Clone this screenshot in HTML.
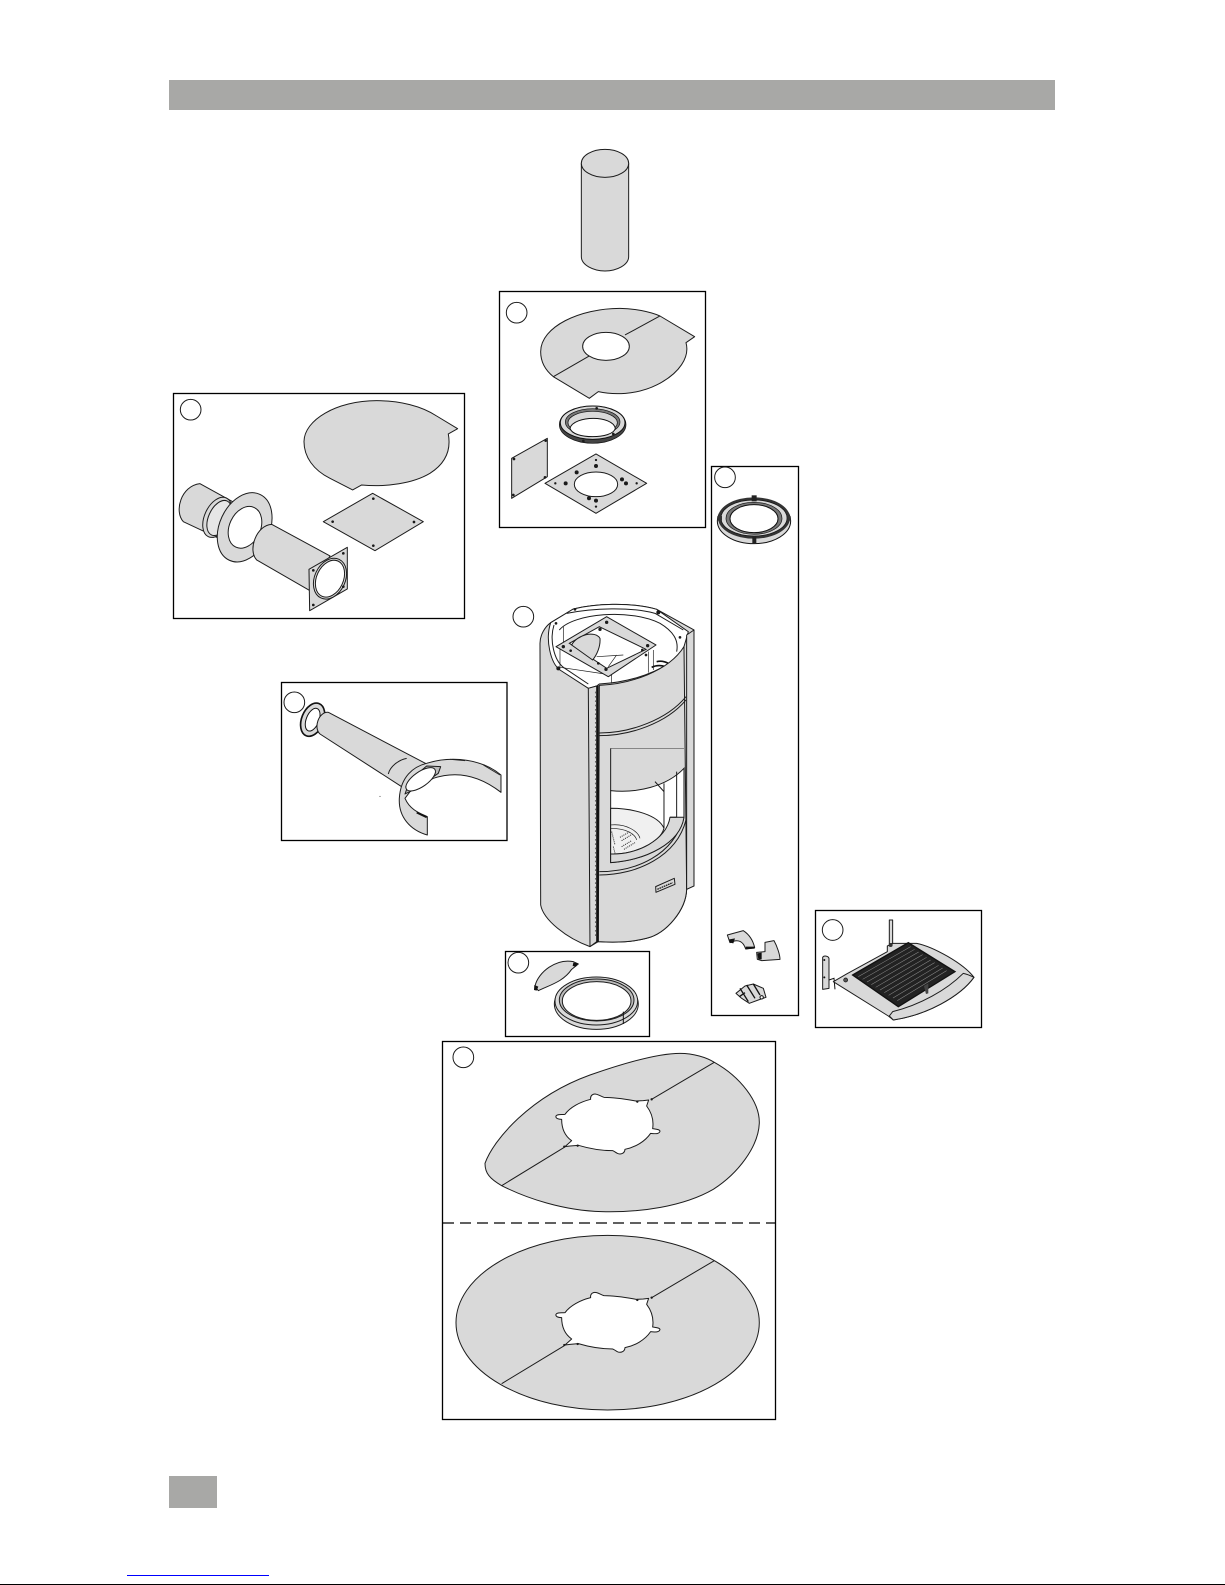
<!DOCTYPE html>
<html><head><meta charset="utf-8"><title>Parts diagram</title>
<style>html,body{margin:0;padding:0;background:#fff}svg{display:block}</style></head>
<body>
<svg xmlns="http://www.w3.org/2000/svg" width="1225" height="1585" viewBox="0 0 1225 1585">
<style>
.z{stroke:#1c1c1c;stroke-width:3;fill:#d9d9d9;stroke-linejoin:round}
.w{fill:#fff}.n{fill:none}.d{fill:#1a1a1a}.t{stroke-width:2}
.b{fill:none;stroke:#000;stroke-width:1.3}
</style>
<rect width="1225" height="1585" fill="#fff"/>
<rect x="169" y="80" width="886" height="30" fill="#a8a8a6"/>
<rect x="169" y="1476" width="48" height="32" fill="#a8a8a6"/>
<rect x="127" y="1575" width="142" height="1" fill="#0000ff"/>
<rect x="0" y="1584" width="1225" height="1" fill="#000"/>

<!-- boxes -->
<rect class="b" x="173.5" y="393.5" width="291" height="225"/>
<rect class="b" x="499.5" y="291.5" width="206" height="236"/>
<rect class="b" x="281.5" y="682.5" width="225.5" height="158"/>
<rect class="b" x="711.5" y="466.5" width="87" height="549"/>
<rect class="b" x="815.5" y="910.5" width="166" height="117"/>
<rect class="b" x="505.5" y="951.5" width="144" height="85"/>
<rect class="b" x="442.5" y="1041.5" width="333" height="378"/>
<line x1="443" y1="1223" x2="775" y2="1223" stroke="#000" stroke-width="1.2" stroke-dasharray="11 6"/>

<!-- top pipe -->
<g transform="translate(560,140) scale(.3333)">
<path class="z" d="M64,70 L64,350 C64,375 100,393 135,393 C170,393 206,375 206,350 L206,70 Z"/>
<ellipse class="z" cx="135" cy="70" rx="71" ry="42"/>
</g>

<!-- box A -->
<g transform="translate(160,380) scale(.3333)">
<circle class="z w" cx="92" cy="89" r="31"/>
<path class="z" d="M432,185 C432,120 530,62 650,62 C720,62 785,78 830,108 L893,146 L865,162 C872,200 865,245 810,280 C760,310 680,322 605,315 L578,330 L510,295 C460,270 432,230 432,185 Z"/>
<path class="z" d="M638,340 L790,425 L645,512 L490,425 Z"/>
<g class="d"><circle cx="640" cy="356" r="4"/><circle cx="762" cy="426" r="4"/><circle cx="640" cy="497" r="4"/><circle cx="518" cy="425" r="4"/></g>
<path class="z" d="M120,311 L218,365 L170,472 L70,425 C42,395 62,318 120,311 Z"/>
<ellipse class="z" cx="172" cy="412" rx="38" ry="64" transform="rotate(25 172 412)"/>
<ellipse class="z" style="fill:#e6e6e6" cx="178" cy="414" rx="32" ry="56" transform="rotate(25 178 414)"/>
<ellipse class="z" cx="254" cy="442" rx="75" ry="109" transform="rotate(25 254 442)"/>
<ellipse class="z w" cx="255" cy="442" rx="46.5" ry="65.5" transform="rotate(25 255 442)"/>
<path class="z" d="M335,433 L510,528 L450,632 L290,540 C262,510 290,435 335,433 Z"/>
<path class="z" d="M447,568 L562,502 L562,627 L449,692 Z"/>
<ellipse cx="510" cy="596" rx="46" ry="64" transform="rotate(25 510 596)" class="z"/>
<ellipse cx="510" cy="596" rx="40" ry="58" transform="rotate(25 510 596)" class="z w"/>
<g class="d"><circle cx="460" cy="571" r="4"/><circle cx="550" cy="520" r="4"/><circle cx="550" cy="620" r="4"/><circle cx="460" cy="675" r="4"/></g>
</g>

<!-- box B -->
<g transform="translate(490,280) scale(.3333)">
<circle class="z w" cx="80" cy="98" r="31"/>
<path class="z" d="M152,215 C152,140 270,85 390,85 C430,85 480,95 510,108 L614,170 L588,188 C600,230 570,280 500,315 C440,345 370,345 325,335 L298,355 L190,290 C165,270 152,245 152,215 Z"/>
<ellipse class="z w" cx="348" cy="199" rx="70" ry="42"/>
<path class="z n" style="fill:none" d="M190,290 L298,228 M405,165 L510,108"/>
<ellipse cx="308" cy="434" rx="100" ry="56" fill="#444" stroke="#111" stroke-width="2"/>
<ellipse cx="308" cy="428" rx="97" ry="50" fill="#d9d9d9" stroke="#111" stroke-width="3"/>
<ellipse cx="308" cy="426" rx="82" ry="40" fill="#777" stroke="#111" stroke-width="2"/>
<ellipse cx="308" cy="428" rx="74" ry="34" fill="#d9d9d9" stroke="#111" stroke-width="2"/>
<path fill="#fff" stroke="#111" stroke-width="3" d="M240,445 C245,425 280,415 310,415 C340,415 372,425 376,445 C372,462 340,470 308,470 C275,470 245,462 240,445 Z"/>
<g class="d"><circle cx="280" cy="483" r="4"/><circle cx="370" cy="462" r="4"/><circle cx="320" cy="385" r="4"/></g>
<path class="z" d="M65,535 L172,475 L172,590 L65,655 Z"/>
<g class="d"><circle cx="72" cy="537" r="4"/><circle cx="167" cy="482" r="4"/><circle cx="165" cy="592" r="4"/><circle cx="70" cy="645" r="4"/></g>
<path class="z" d="M318,522 L470,610 L318,700 L165,610 Z"/>
<ellipse class="z w" cx="318" cy="613" rx="65" ry="37"/>
<g class="d"><circle cx="318" cy="540" r="3.5"/><circle cx="318" cy="558" r="6"/><circle cx="260" cy="577" r="6"/><circle cx="396" cy="598" r="6"/><circle cx="408" cy="610" r="6"/><circle cx="440" cy="610" r="3.5"/><circle cx="196" cy="610" r="3.5"/><circle cx="227" cy="610" r="6"/><circle cx="297" cy="655" r="6"/><circle cx="318" cy="662" r="6"/><circle cx="318" cy="680" r="3.5"/></g>
</g>

<!-- box C -->
<g transform="translate(270,670) scale(.3333)">
<circle class="z w" cx="73" cy="97" r="31"/>
<ellipse cx="128" cy="149" rx="33" ry="52" transform="rotate(22 128 149)" fill="#d9d9d9" stroke="#111" stroke-width="5"/>
<ellipse cx="128" cy="149" rx="19" ry="36" transform="rotate(22 128 149)" fill="#fff" stroke="#111" stroke-width="3"/>
<path class="z" d="M175,127 L470,282 L395,350 L150,192 C130,175 145,125 175,127 Z"/>
<path class="z n" style="fill:none" d="M410,265 C385,270 360,290 355,312"/>
<path class="z" d="M470,280 C550,255 640,270 693,315 L693,367 C620,310 550,305 490,325 L420,365 L405,385 C420,420 450,430 472,440 L472,495 C420,480 385,440 388,385 C392,320 430,290 470,280 Z"/>
<path class="z" style="fill:#bbb" d="M420,330 L470,288 L512,290 L505,310 L440,355 L405,372 Z"/>
<ellipse class="z w" cx="452" cy="328" rx="52" ry="22" transform="rotate(-35 452 328)"/>
<path fill="none" stroke="#222" stroke-width="2.5" d="M540,268 L585,272 M640,285 L690,315"/>
<path fill="none" stroke="#111" stroke-width="5" d="M440,428 L470,442"/>
<circle cx="330" cy="379" r="1.5" fill="#222"/>
</g>

<!-- stove -->
<g transform="translate(480,580) scale(.3333)">
<circle class="z w" cx="130" cy="110" r="31"/>
<path class="z" d="M212,128 L280,87 C340,72 450,65 530,88 L642,150 L642,918 L620,928 C618,990 560,1060 500,1075 C450,1088 400,1088 355,1085 L330,1100 C260,1075 190,1020 182,975 L180,190 C180,165 195,140 212,128 Z"/>
<!-- top white rim and opening -->
<path fill="#fff" stroke="#1c1c1c" stroke-width="3" d="M212,128 L280,87 C340,72 450,65 530,88 L625,155 L612,200 C590,255 480,305 358,312 L350,318 L325,325 L240,270 C212,250 195,180 212,128 Z"/>
<path class="z n" style="fill:none" d="M222,135 C208,180 222,240 250,262 L325,312 M238,150 C280,100 450,85 540,130 C590,160 595,190 590,215 M260,100 C340,84 450,80 525,100 L610,150"/>
<path fill="none" stroke="#111" stroke-width="5" d="M530,245 C550,240 565,250 575,255 M515,262 C540,250 560,262 570,265"/>
<path class="z n t" style="fill:none" d="M505,215 L505,278 M520,210 L520,270 M395,280 L395,310 M250,140 L250,200 M240,205 L240,262 M240,262 L395,285"/>
<!-- square plate -->
<path class="z" d="M380,110 L528,195 L385,290 L228,200 Z"/>
<path fill="#fff" stroke="#1c1c1c" stroke-width="3" d="M358,140 L498,208 L380,265 L268,190 Z"/>
<path class="z" d="M275,195 C290,165 345,150 360,175 C362,200 350,225 338,240 Z"/>
<path class="z n t" style="fill:none" d="M350,230 L430,225 M385,260 L410,225"/>
<g class="d"><circle cx="380" cy="127" r="5"/><circle cx="360" cy="148" r="5"/><circle cx="503" cy="197" r="5"/><circle cx="487" cy="210" r="4"/><circle cx="250" cy="200" r="5"/><circle cx="272" cy="212" r="4"/><circle cx="378" cy="268" r="5"/><circle cx="355" cy="250" r="4"/><circle cx="535" cy="97" r="6"/><circle cx="285" cy="88" r="4"/><circle cx="228" cy="130" r="4"/><circle cx="235" cy="265" r="6"/><circle cx="435" cy="312" r="3"/><circle cx="600" cy="172" r="4"/><circle cx="498" cy="225" r="4"/></g>
<!-- front right panel -->
<path class="z" d="M358,316 C450,312 565,275 612,200 L620,928 C618,990 560,1060 500,1075 C450,1088 400,1088 355,1085 Z"/>
<path class="z" d="M325,325 L350,318 L350,1085 L330,1100 Z"/>
<path d="M350,318 L356,316 L356,1086 L350,1088 Z" fill="#111"/>
<path stroke="#333" stroke-width="2" fill="none" stroke-dasharray="5 8" d="M346,335 L346,1075"/>
<path class="z" d="M620,165 L642,150 L642,918 L620,928 Z"/>
<!-- bands -->
<path class="z n" style="fill:none;stroke-width:3" d="M358,467 C450,467 560,430 618,360 M358,459 C450,459 560,420 618,350 M358,885 C470,885 590,830 618,720 M358,875 C470,875 580,825 610,715"/>
<path stroke="#555" stroke-width="2" fill="none" d="M392,505 L612,505"/>
<!-- window -->
<path fill="#fff" stroke="#1c1c1c" stroke-width="3" d="M392,632 C470,640 560,620 612,565 L612,710 C600,790 500,840 392,848 Z"/>
<path class="z" style="fill:#f0f0f0" d="M392,685 C460,685 535,705 552,745 C540,790 460,825 392,822 Z"/>
<path class="z" d="M392,848 L392,822 C470,825 560,780 570,712 L612,712 C600,790 500,840 392,848 Z"/>
<path class="z n" style="fill:none" d="M392,505 L392,632 M552,610 L552,745 M590,575 L590,712 M570,712 L590,712 M525,605 L552,635"/>
<path class="z n t" style="fill:none" d="M392,735 C440,730 475,755 480,775 M392,745 C435,745 465,760 470,780"/>
<g stroke="#222" stroke-width="3" fill="none" stroke-dasharray="3 3"><path d="M395,755 L405,795 M400,800 L405,820 M420,772 L450,755 M425,782 L458,762 M425,800 L455,782 M432,808 L465,788"/></g>
<path class="z" d="M527,920 L583,895 L585,913 L528,937 Z"/>
<path stroke="#222" stroke-width="4" stroke-dasharray="5 2" d="M532,928 L578,908" fill="none"/>
</g>

<!-- box D -->
<g transform="translate(700,460) scale(.3333)">
<circle class="z w" cx="75" cy="52" r="31"/>
<ellipse cx="162" cy="183" rx="110" ry="68" fill="#d9d9d9" stroke="#111" stroke-width="3"/>
<ellipse cx="162" cy="174" rx="108" ry="62" fill="#333"/>
<ellipse cx="162" cy="174" rx="99" ry="54" fill="#d9d9d9" stroke="#111" stroke-width="2"/>
<ellipse cx="162" cy="175" rx="84" ry="48" fill="#777" stroke="#111" stroke-width="2"/>
<ellipse cx="162" cy="176" rx="72" ry="42" fill="#fff" stroke="#111" stroke-width="3"/>
<rect x="155" y="106" width="15" height="18" fill="#222"/><rect x="157" y="228" width="12" height="24" fill="#222"/><rect x="52" y="168" width="14" height="14" fill="#333"/><rect x="262" y="168" width="10" height="14" fill="#333"/>
</g>
<g transform="translate(700,900) scale(.3333)">
<path class="z" d="M82,105 L130,92 C150,105 160,125 164,143 L137,147 C130,125 115,115 90,128 Z"/>
<path class="z" d="M170,157 L195,155 L195,127 L222,122 C232,140 240,165 240,178 L185,182 L172,178 Z"/>
<path fill="#111" d="M88,118 L105,115 L100,130 L90,128 Z M172,160 L185,158 L185,178 L175,178 Z M137,140 L164,140 L164,146 L137,148 Z"/>
<path class="z" d="M108,280 L135,258 L160,252 L190,265 L198,292 L175,300 L148,310 L125,295 Z"/>
<path fill="none" stroke="#111" stroke-width="4" d="M120,265 L145,305 M140,255 L165,295 M160,252 L180,285 M118,290 L135,278"/>
<circle cx="185" cy="292" r="5" fill="#fff" stroke="#111" stroke-width="3"/>
<!-- grate box -->
<circle class="z w" cx="398" cy="90" r="31"/>
<path class="z" d="M368,172 C372,165 385,168 387,175 L387,265 L368,268 Z"/>
<path fill="none" stroke="#111" stroke-width="3" d="M387,240 L402,235 L405,268"/>
<path class="z" d="M568,60 L578,60 L578,130 L568,132 Z"/>
<path class="z" d="M580,130 L650,130 C700,140 790,190 822,232 C780,290 680,345 580,360 L565,348 L400,245 L440,222 L562,155 L562,138 Z"/>
<path class="z" d="M580,360 C680,345 780,290 822,232 C810,226 800,222 790,220 C740,270 660,315 578,335 L568,348 Z"/>
<path d="M458,225 L625,128 L765,215 L595,320 Z" fill="#222" stroke="#111" stroke-width="4"/>
<path stroke="#8a8a8a" stroke-width="1.6" fill="none" d="M475,230 L632,140 M488,238 L644,148 M501,246 L656,156 M514,254 L668,164 M527,262 L680,172 M540,270 L692,180 M553,278 L704,188 M566,286 L716,196 M579,294 L728,204 M592,302 L740,212"/>
<path d="M672,258 L685,250 L685,280 L678,282 Z" fill="#444"/>
<circle cx="437" cy="240" r="6" fill="#555" stroke="#111" stroke-width="2"/>
<circle cx="572" cy="135" r="6" fill="#333"/>
<circle cx="373" cy="180" r="3" fill="#111"/><circle cx="373" cy="232" r="3" fill="#111"/>
</g>

<!-- box F -->
<g transform="translate(500,940) scale(.3333)">
<circle class="z w" cx="55" cy="68" r="31"/>
<path class="z" d="M105,138 C115,95 170,55 220,65 L235,72 L215,88 C190,125 150,135 115,152 Z"/>
<path fill="#111" d="M103,135 L115,140 L110,152 L102,150 Z M220,68 L233,70 L228,80 L218,78 Z"/>
<ellipse class="z" cx="289" cy="192" rx="126" ry="76"/>
<ellipse class="z" cx="289" cy="183" rx="124" ry="72"/>
<ellipse class="z" style="fill:#bbb" cx="290" cy="180" rx="112" ry="63"/>
<ellipse class="z w" cx="290" cy="183" rx="103" ry="58"/>
<path stroke="#111" stroke-width="3" d="M370,215 L370,252"/>
</g>

<!-- egg disc -->
<g transform="translate(430,1030) scale(.3333)">
<circle class="z w" cx="100" cy="82" r="31"/>
<path class="z" d="M165,400 C190,330 300,200 480,135 C560,107 680,70 750,70 C790,70 830,82 853,97 C930,140 990,215 988,280 C985,350 925,430 850,478 C760,530 630,548 515,545 C400,542 290,505 215,467 C180,447 165,430 165,400 Z"/>
<path class="z n" style="fill:none" d="M853,97 L665,208 M215,467 L403,352"/>
<path class="z w" d="M395,268 C385,268 376,265 378,258 C381,252 392,254 405,253 C420,232 450,216 482,208 C480,196 490,190 500,193 C508,195 515,200 522,202 C560,202 590,208 618,213 L640,212 L656,210 L650,228 C665,248 672,270 668,296 C678,298 690,298 690,304 C688,312 675,312 662,310 C645,335 615,352 585,358 C584,372 570,374 562,370 C556,367 552,363 548,362 C510,362 475,355 445,346 L420,348 L405,350 L425,332 C405,318 395,295 395,268 Z"/>
<g class="d"><circle cx="622" cy="215" r="3.5"/><circle cx="665" cy="208" r="3.5"/><circle cx="403" cy="350" r="3.5"/><circle cx="443" cy="347" r="3.5"/></g>
</g>

<!-- round disc -->
<g transform="translate(430,1220) scale(.3333)">
<ellipse class="z" cx="533" cy="308" rx="455" ry="262"/>
<path class="z n" style="fill:none" d="M853,122 L665,233 M215,491 L403,377"/>
<g transform="translate(0,25)">
<path class="z w" d="M395,268 C385,268 376,265 378,258 C381,252 392,254 405,253 C420,232 450,216 482,208 C480,196 490,190 500,193 C508,195 515,200 522,202 C560,202 590,208 618,213 L640,212 L656,210 L650,228 C665,248 672,270 668,296 C678,298 690,298 690,304 C688,312 675,312 662,310 C645,335 615,352 585,358 C584,372 570,374 562,370 C556,367 552,363 548,362 C510,362 475,355 445,346 L420,348 L405,350 L425,332 C405,318 395,295 395,268 Z"/>
<g class="d"><circle cx="622" cy="215" r="3.5"/><circle cx="665" cy="208" r="3.5"/><circle cx="403" cy="350" r="3.5"/><circle cx="443" cy="347" r="3.5"/></g>
</g>
</g>
</svg>
</body></html>
